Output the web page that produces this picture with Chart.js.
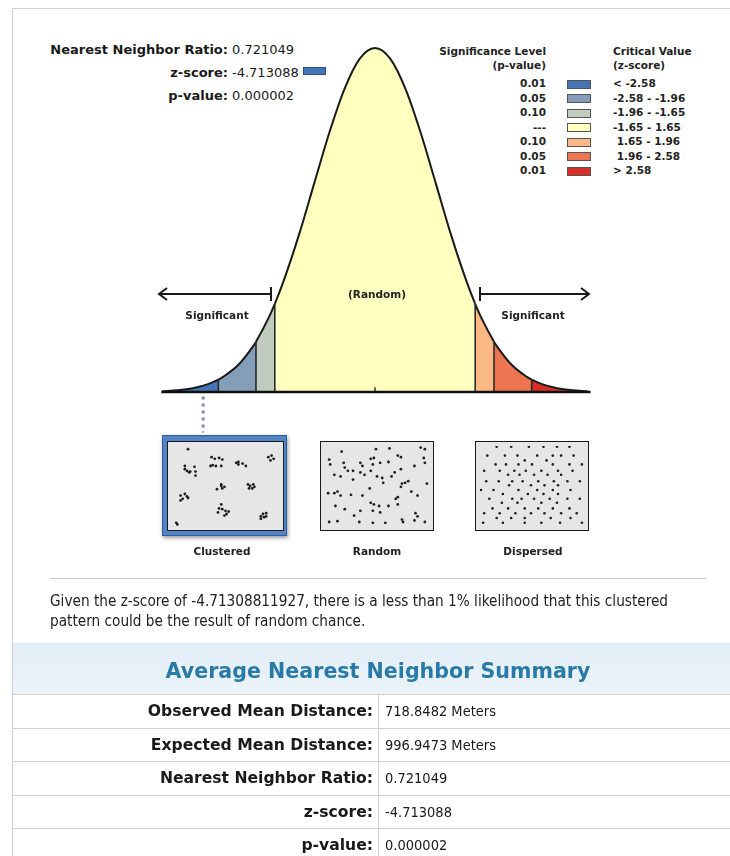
<!doctype html>
<html lang="en">
<head>
<meta charset="utf-8">
<title>Average Nearest Neighbor Summary</title>
<script src="https://cdn.jsdelivr.net/npm/chart.js@4.4.1/dist/chart.umd.min.js"></script>
<style>
  * { box-sizing: border-box; }
  html, body { margin: 0; padding: 0; background: #fff; }
  body {
    width: 730px; height: 856px; position: relative; overflow: hidden;
    font-family: 'DejaVu Sans', sans-serif; color: #1a1a1a;
  }
  .abs { position: absolute; white-space: pre; }
  .cond { font-family: 'DejaVu Sans Condensed', 'DejaVu Sans', sans-serif; font-stretch: condensed; }
  .report-box { position: absolute; left: 12px; top: 8px; width: 730px; height: 636px; border: 1px solid #cfcfcf; }
  .stat-label { font-weight: bold; font-size: 13px; line-height: 16px; text-align: right; width: 200px; left: 28px; }
  .stat-value { font-size: 13px; line-height: 16px; left: 232px; }
  .leg { font-weight: bold; font-size: 10.5px; line-height: 13px; color: #222; }
  .leg-right { text-align: right; width: 120px; left: 426px; }
  .swatch { position: absolute; left: 567px; width: 24px; height: 9px; border: 1px solid #555; }
  .diag-label { font-weight: bold; font-size: 10.5px; line-height: 13px; color: #222; text-align: center; width: 120px; }
  #bellWrap { position: absolute; left: 140px; top: 40px; width: 470px; height: 400px; }
  .frame { position: absolute; left: 162px; top: 435px; width: 125px; height: 101px; background: #5283c4; border: 1px solid #2f5d9a; box-shadow: 1px 2px 4px rgba(0,0,0,0.4); }
  .pattern { position: absolute; top: 441px; height: 90px; background: #e6e6e6; border: 1.5px solid #1a1a1a; }
  .pattern div { position: absolute; left: 0; top: 0; right: 0; bottom: 0; }
  .sep { position: absolute; left: 50px; top: 578px; width: 657px; height: 1px; background: #cccccc; }
  .para { position: absolute; left: 50px; top: 591px; width: 680px; font-size: 15.2px; line-height: 20px; color: #222; }
  .band { position: absolute; left: 12px; top: 643px; width: 730px; height: 51px; background: linear-gradient(#e1edf6, #ecf4fa); border-left: 1px solid #cfcfcf; }
  .title { position: absolute; left: 0; width: 756px; top: 658px; text-align: center; font-weight: bold; font-size: 20.6px; line-height: 27px; color: #2a7aa8; }
  .row { position: absolute; left: 12px; width: 730px; height: 34px; border-top: 1px solid #cfcfcf; border-left: 1px solid #cfcfcf; }
  .row .k { position: absolute; left: 0; width: 360px; top: 0; line-height: 33px; text-align: right; font-weight: bold; font-size: 15.6px; color: #1a1a1a; }
  .row .v { position: absolute; left: 372px; top: 0; line-height: 33px; font-size: 14.5px; color: #1a1a1a; }
  .row .div { position: absolute; left: 365px; top: 0; width: 1px; height: 34px; background: #cfcfcf; }
</style>
</head>
<body>
<div class="report-box"></div>
<div id="stats"></div>
<div id="legend"></div>
<div id="bellWrap"><canvas id="bellChart"></canvas></div>
<svg class="abs" style="left:0;top:0" width="730" height="856">
  <g stroke="#1a1a1a" stroke-width="2" fill="none">
    <line x1="160" y1="294" x2="271" y2="294"/>
    <polyline points="167,288 159,294 167,300"/>
    <line x1="271" y1="287" x2="271" y2="301"/>
    <line x1="480" y1="294" x2="589" y2="294"/>
    <polyline points="581,288 589,294 581,300"/>
    <line x1="480" y1="287" x2="480" y2="301"/>
  </g>
</svg>
<div class="abs diag-label" style="left:317px;top:288px">(Random)</div>
<div class="abs diag-label" style="left:157px;top:309px">Significant</div>
<div class="abs diag-label" style="left:473px;top:309px">Significant</div>

<div class="frame"></div>
<div class="pattern" style="left:167px;width:117px;"><div><canvas id="clusteredChart"></canvas></div></div>
<div class="pattern" style="left:320px;width:114px;"><div><canvas id="randomChart"></canvas></div></div>
<div class="pattern" style="left:475px;width:114px;"><div><canvas id="dispersedChart"></canvas></div></div>
<div class="abs diag-label" style="left:162px;top:545px">Clustered</div>
<div class="abs diag-label" style="left:317px;top:545px">Random</div>
<div class="abs diag-label" style="left:473px;top:545px">Dispersed</div>

<div class="sep"></div>
<div class="para cond">Given the z-score of -4.71308811927, there is a less than 1% likelihood that this clustered<br>pattern could be the result of random chance.</div>

<div class="band"></div>
<div class="title">Average Nearest Neighbor Summary</div>
<div id="summary"></div>

<script>
// bell curve: height as % of the peak at each z
const zPositions = [-3.5, -3.25, -3, -2.75, -2.58, -2.5, -2.25, -2, -1.96, -1.75, -1.65, -1.5, -1.25, -1, -0.75, -0.5, -0.25, 0,
  0.25, 0.5, 0.75, 1, 1.25, 1.5, 1.65, 1.75, 1.96, 2, 2.25, 2.5, 2.58, 2.75, 3, 3.25, 3.5];
const curveHeights = [0.2, 0.5, 1.1, 2.3, 3.6, 4.4, 7.9, 13.5, 14.6, 21.6, 25.6, 32.5, 45.8, 60.7, 75.5, 88.2, 96.9, 100,
  96.9, 88.2, 75.5, 60.7, 45.8, 32.5, 25.6, 21.6, 14.6, 13.5, 7.9, 4.4, 3.6, 2.3, 1.1, 0.5, 0.2];

const bandBreaks = [-2.58, -1.96, -1.65, 1.65, 1.96, 2.58];
const bandColors = ['#4575b5', '#849eba', '#c0ccbe', '#ffffbf', '#fab984', '#ed7551', '#d62f27'];
const pValueLabels = ['0.01', '0.05', '0.10', '---', '0.10', '0.05', '0.01'];
const criticalLabels = ['< -2.58', '-2.58 - -1.96', '-1.96 - -1.65', '-1.65 - 1.65', ' 1.65 - 1.96', ' 1.96 - 2.58', '> 2.58'];
const markerZ = -2.83;

const statLabels = ['Nearest Neighbor Ratio:', 'z-score:', 'p-value:'];
const statValues = ['0.721049', '-4.713088', '0.000002'];

const summaryLabels = ['Observed Mean Distance:', 'Expected Mean Distance:', 'Nearest Neighbor Ratio:', 'z-score:', 'p-value:'];
const summaryValues = ['718.8482 Meters', '996.9473 Meters', '0.721049', '-4.713088', '0.000002'];

// dot patterns, x / y in % of the box (y from the top)
const clusteredDots = [
  [15,4],[37,14],[40,16],[44,15],[38,24],[41,25],[46,25],[47,17],[36,25],
  [60,21],[62,23],[66,22],[69,25],[62,20],
  [90,14],[93,12],[92,18],[95,16],
  [12,25],[14,31],[16,33],[12,29],[21,26],[22,32],[22,37],[17,32],
  [42,54],[46,50],[47,53],[49,51],[46,48],
  [71,48],[73,50],[76,48],[75,53],[72,53],[77,51],
  [8,62],[10,66],[12,60],[14,63],[15,65],[8,68],
  [46,73],[44,78],[47,79],[50,81],[51,85],[43,83],[49,87],[53,82],
  [83,88],[85,85],[86,89],[88,84],[83,91],[88,88],
  [4,96],[5,98]
];
const randomDots = [
  [16,7],[49,4],[62,3],[92,2],[96,4],[4,17],[5,23],[18,21],[19,27],[27,31],[34,21],[36,25],[44,16],[47,15],[46,23],
  [53,21],[61,20],[70,12],[73,14],[86,25],[95,15],[96,21],[9,36],[15,38],[22,31],[27,42],[34,33],[38,36],[44,31],
  [50,38],[55,40],[56,46],[64,38],[67,33],[73,29],[74,47],[77,46],[80,44],[73,51],[83,57],[98,47],[43,53],[3,59],
  [9,59],[12,57],[15,62],[25,61],[36,62],[68,66],[70,64],[89,62],[10,75],[19,79],[44,71],[47,73],[52,75],[46,81],
  [53,83],[61,75],[70,73],[87,84],[89,88],[28,87],[33,95],[4,95],[12,94],[46,96],[58,96],[74,92],[75,95],[86,93],
  [96,95],[34,81]
];
const dispersedDots = [
  [16,1],[30,1],[47,1],[61,1],[74,1],[86,1],
  [7,12],[24,12],[36,12],[55,12],[70,12],[78,12],[90,12],
  [43,18],[64,18],
  [15,23],[25,23],[37,23],[50,23],[70,23],[86,23],[98,23],
  [4,31],[19,31],[33,31],[44,31],[59,31],[75,31],[89,31],
  [27,36],[38,36],[52,36],[65,36],[78,36],
  [6,44],[18,44],[31,44],[41,44],[56,44],[71,44],[84,44],[96,44],
  [28,49],[49,49],[62,49],[75,49],
  [1,55],[13,55],[37,55],[55,55],[70,55],[87,55],
  [22,60],[46,60],[61,60],[75,60],
  [9,66],[31,66],[40,66],[52,66],[67,66],[84,66],[96,66],
  [21,71],[36,71],[59,71],[74,71],
  [12,78],[27,78],[43,78],[56,78],[70,78],[86,78],
  [4,84],[19,84],[34,84],[49,84],[62,84],[78,84],[93,84],
  [16,90],[30,90],[43,90],[68,90],[87,90],
  [3,96],[22,96],[43,96],[59,96],[77,96],[98,96]
];

// ---- html parts ----
(function () {
  var stats = document.getElementById('stats');
  statLabels.forEach(function (label, i) {
    var top = 42 + i * 23;
    stats.insertAdjacentHTML('beforeend',
      '<div class="abs stat-label" style="top:' + top + 'px">' + label + '</div>' +
      '<div class="abs stat-value" style="top:' + top + 'px">' + statValues[i] + '</div>');
  });
  stats.insertAdjacentHTML('beforeend',
    '<div class="swatch" style="left:303px;top:67px;width:23px;height:8px;background:' + bandColors[0] + ';border-color:#2d4f86"></div>');

  var legend = document.getElementById('legend');
  legend.insertAdjacentHTML('beforeend',
    '<div class="abs leg leg-right" style="top:45px">Significance Level</div>' +
    '<div class="abs leg leg-right" style="top:59px">(p-value)</div>' +
    '<div class="abs leg" style="left:613px;top:45px">Critical Value</div>' +
    '<div class="abs leg" style="left:613px;top:59px">(z-score)</div>');
  pValueLabels.forEach(function (p, i) {
    var cy = 84 + i * 14.5;
    legend.insertAdjacentHTML('beforeend',
      '<div class="abs leg leg-right" style="top:' + (cy - 7) + 'px">' + p + '</div>' +
      '<div class="swatch" style="top:' + (cy - 4.5) + 'px;background:' + bandColors[i] + '"></div>' +
      '<div class="abs leg" style="left:613px;top:' + (cy - 7) + 'px">' + criticalLabels[i] + '</div>');
  });

  var summary = document.getElementById('summary');
  summaryLabels.forEach(function (label, i) {
    var top = 694 + i * 33.6;
    summary.insertAdjacentHTML('beforeend',
      '<div class="row" style="top:' + top + 'px"><div class="k">' + label + '</div><div class="div"></div>' +
      '<div class="v cond">' + summaryValues[i] + '</div></div>');
  });
})();

// ---- bell curve ----
(function () {
  function bandColor(z) {
    var i = 0;
    while (i < bandBreaks.length && z > bandBreaks[i]) i++;
    return bandColors[i];
  }
  function heightAt(z) { return curveHeights[zPositions.indexOf(z)]; }

  var curvePoints = zPositions.map(function (z, i) { return { x: z, y: curveHeights[i] }; });
  var plain = { pointRadius: 0, fill: false, borderCapStyle: 'butt' };

  var datasets = [];
  datasets.push(Object.assign({ data: [{ x: -3.52, y: 0 }, { x: 3.55, y: 0 }], borderColor: '#111', borderWidth: 2.5 }, plain));
  datasets.push(Object.assign({ data: [{ x: 0, y: 0 }, { x: 0, y: 1.4 }], borderColor: '#333', borderWidth: 1.5 }, plain));
  bandBreaks.forEach(function (b) {
    datasets.push(Object.assign({ data: [{ x: b, y: 0 }, { x: b, y: heightAt(b) }], borderColor: '#2a2a2a', borderWidth: 1.6 }, plain));
  });
  datasets.push(Object.assign({ data: [{ x: markerZ, y: -1.3 }, { x: markerZ, y: -11.8 }], borderColor: '#7d8ca4', borderWidth: 3, borderDash: [3, 4] }, plain));
  datasets.push({
    data: curvePoints,
    borderColor: '#1a1a1a',
    borderWidth: 2,
    backgroundColor: bandColors[3],
    pointRadius: 0,
    cubicInterpolationMode: 'monotone',
    fill: 'origin',
    segment: {
      backgroundColor: function (c) {
        return bandColor((zPositions[c.p0DataIndex] + zPositions[c.p1DataIndex]) / 2);
      }
    }
  });

  new Chart(document.getElementById('bellChart'), {
    type: 'line',
    data: { datasets: datasets },
    options: {
      responsive: true,
      maintainAspectRatio: false,
      animation: false,
      layout: { padding: 0 },
      scales: {
        x: { type: 'linear', min: -3.87, max: 3.87, display: false },
        y: { min: -13.95, max: 102.3, display: false }
      },
      plugins: { legend: { display: false }, tooltip: { enabled: false } }
    }
  });
})();

// ---- dot patterns ----
(function () {
  function dotChart(id, dots, radius) {
    new Chart(document.getElementById(id), {
      type: 'scatter',
      data: { datasets: [{ data: dots, pointRadius: radius, pointBackgroundColor: '#1e1e1e', pointBorderWidth: 0 }] },
      options: {
        responsive: true,
        maintainAspectRatio: false,
        animation: false,
        layout: { padding: 2 },
        scales: {
          x: { min: 0, max: 100, display: false },
          y: { min: 0, max: 100, reverse: true, display: false }
        },
        plugins: { legend: { display: false }, tooltip: { enabled: false } }
      }
    });
  }
  dotChart('clusteredChart', clusteredDots, 1.4);
  dotChart('randomChart', randomDots, 1.4);
  dotChart('dispersedChart', dispersedDots, 1.3);
})();
</script>
</body>
</html>
